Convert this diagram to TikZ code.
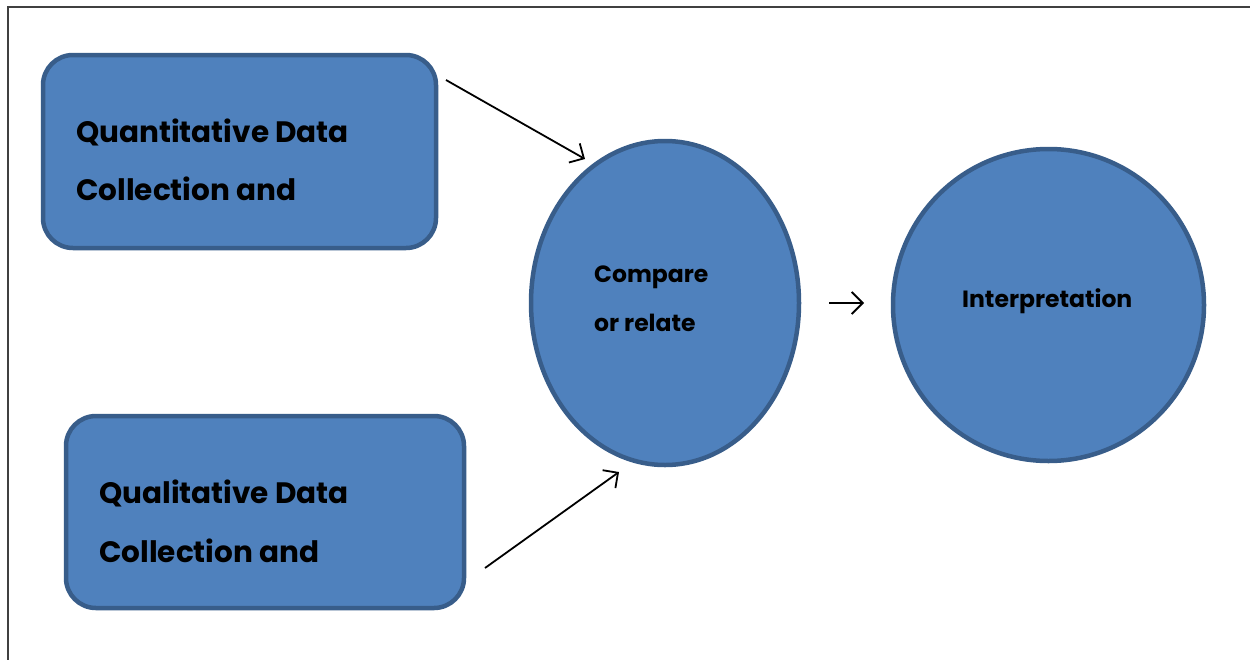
\documentclass[tikz,border=0pt]{standalone}
\usepackage{fontspec}
\setmainfont{Poppins}
\usetikzlibrary{shapes.geometric,arrows.meta}
\definecolor{boxfill}{HTML}{4F81BD}
\definecolor{boxedge}{HTML}{385D8A}
\definecolor{framegray}{HTML}{404040}
\tikzset{
  x=1pt, y=-1pt,
  blockbox/.style={draw=boxedge, fill=boxfill, line width=4.5pt, rounded corners=30pt},
  blob/.style={ellipse, draw=boxedge, fill=boxfill, line width=4.5pt, inner sep=0pt},
  bigtext/.style={anchor=base west, inner sep=0pt, font=\fontsize{29.5}{32}\selectfont\bfseries},
  smalltext/.style={anchor=base west, inner sep=0pt, font=\fontsize{23.5}{26}\selectfont\bfseries},
  flow/.style={line width=1.8pt, -{Straight Barb[length=11pt,width=22pt,line width=1.8pt]}}
}
\begin{document}
\begin{tikzpicture}
\useasboundingbox (0,0) rectangle (1250,659);
% page frame
\draw[framegray, line width=1.5pt] (8,670) -- (8,7) -- (1260,7);

% input blocks
\draw[blockbox] (43,55) rectangle (436,248);
\node (quant) at (239.5,151.5) {};
\draw[blockbox] (66,416) rectangle (464,608);
\node (qual) at (265,512) {};
\node[bigtext] at (76,142) {Quantitative Data};
\node[bigtext] at (76,200) {Collection and};
\node[bigtext] at (99,503) {Qualitative Data};
\node[bigtext] at (99,562) {Collection and};

% comparison and interpretation
\node[blob, minimum width=268pt, minimum height=324pt] (cmp) at (665,303) {};
\node[blob, minimum width=311pt, minimum height=312pt] (interp) at (1048.5,305) {};
\node[smalltext] at (594,282) {Compare};
\node[smalltext] at (594,331) {or relate};
\node[smalltext] at (962,307) {Interpretation};

% connectors
\coordinate (a1s) at (446,80);
\coordinate (a1e) at (585,159);
\coordinate (a2s) at (485,568);
\coordinate (a2e) at (619,472);
\coordinate (a3s) at (829,303);
\coordinate (a3e) at (864,303);
\draw[flow] (a1s) -- (a1e);
\draw[flow] (a2s) -- (a2e);
\draw[flow] (a3s) -- (a3e);
\end{tikzpicture}
\end{document}
